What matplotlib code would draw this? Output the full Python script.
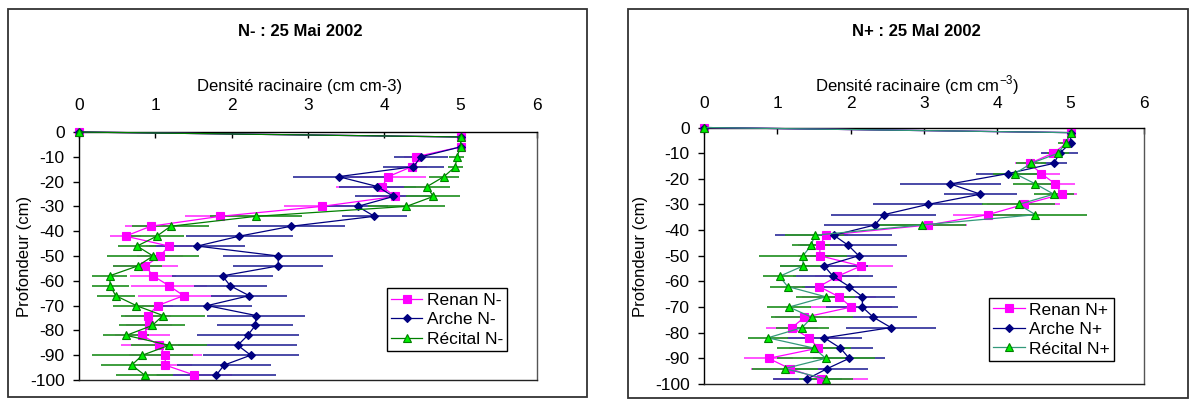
import matplotlib
matplotlib.use("Agg")
import matplotlib.pyplot as plt
from matplotlib.patches import Rectangle

plt.rcParams['font.family'] = ['Liberation Sans', 'DejaVu Sans']
plt.rcParams['mathtext.fontset'] = 'custom'
plt.rcParams['mathtext.rm'] = 'Liberation Sans'
plt.rcParams['axes.unicode_minus'] = False

# ---------------- data ----------------
depth_cm = [0, -2, -6, -10, -14, -18, -22, -26, -30, -34, -38, -42, -46,
            -50, -54, -58, -62, -66, -70, -74, -78, -82, -86, -90, -94, -98]

# N- panel
renan_nm = [0, 5.0, 5.0, 4.41, 4.36, 4.05, 3.97, 4.14, 3.18, 1.85, 0.94, 0.61, 1.18,
            1.06, 0.87, 0.97, 1.18, 1.37, 1.03, 0.90, 0.92, 0.83, 1.05, 1.13, 1.13, 1.51]
arche_nm = [0, 5.0, 5.0, 4.48, 4.38, 3.40, 3.91, 4.12, 3.65, 3.87, 2.78, 2.10, 1.55,
            2.61, 2.61, 1.88, 1.98, 2.23, 1.68, 2.32, 2.31, 2.21, 2.08, 2.25, 1.90, 1.80]
recital_nm = [0, 5.0, 5.0, 4.95, 4.93, 4.78, 4.56, 4.64, 4.29, 2.32, 1.20, 1.02, 0.76,
              0.97, 0.77, 0.40, 0.41, 0.48, 0.75, 1.10, 0.96, 0.62, 1.18, 0.83, 0.69, 0.86]
renan_nm_err = [0, 0, 0.05, 0.15, 0.2, 0.5, 0.6, 0.3, 0.5, 0.46, 0.34, 0.2, 0.3,
                0.3, 0.43, 0.3, 0.5, 0.6, 0.2, 0.3, 0.3, 0.36, 0.5, 0.48, 0.35, 0.5]
arche_nm_err = [0, 0, 0.05, 0.35, 0.4, 0.6, 0.5, 0.5, 0.4, 0.43, 0.7, 0.7, 0.63,
                0.72, 0.59, 0.66, 0.48, 0.5, 0.58, 0.64, 0.5, 0.67, 0.78, 0.63, 0.62, 0.78]
recital_nm_err = [0, 0, 0.05, 0.1, 0.1, 0.2, 0.3, 0.35, 0.5, 0.6, 0.5, 0.35, 0.25,
                  0.6, 0.32, 0.23, 0.24, 0.25, 0.3, 0.55, 0.43, 0.3, 0.5, 0.66, 0.4, 0.37]

# N+ panel
renan_np = [0, 5.0, 4.95, 4.76, 4.44, 4.60, 4.79, 4.88, 4.36, 3.87, 3.06, 1.66, 1.58,
            1.58, 2.14, 1.82, 1.57, 1.84, 2.01, 1.37, 1.20, 1.43, 1.56, 0.88, 1.17, 1.59]
arche_np = [0, 5.0, 5.0, 4.85, 4.77, 4.14, 3.36, 3.77, 3.05, 2.45, 2.33, 1.77, 1.97,
            2.11, 1.64, 1.76, 1.98, 2.16, 2.16, 2.31, 2.55, 1.64, 1.86, 1.98, 1.68, 1.41]
recital_np = [0, 5.0, 4.93, 4.83, 4.46, 4.24, 4.52, 4.77, 4.29, 4.52, 2.97, 1.51, 1.46,
              1.35, 1.35, 1.03, 1.14, 1.66, 1.16, 1.47, 1.34, 0.87, 1.50, 1.66, 1.10, 1.66]
renan_np_err = [0, 0.05, 0.1, 0.15, 0.2, 0.25, 0.27, 0.2, 0.5, 0.47, 0.52, 0.3, 0.3,
                0.3, 0.44, 0.3, 0.35, 0.5, 0.56, 0.4, 0.35, 0.4, 0.4, 0.33, 0.53, 0.64]
arche_np_err = [0, 0.05, 0.05, 0.25, 0.18, 0.43, 0.69, 0.5, 0.75, 0.72, 0.7, 0.8, 0.66,
                0.66, 0.6, 0.55, 0.65, 0.45, 0.49, 0.6, 0.62, 0.51, 0.44, 0.49, 0.55, 0.47]
recital_np_err = [0, 0.05, 0.1, 0.15, 0.2, 0.3, 0.3, 0.27, 0.5, 0.7, 0.6, 0.4, 0.26,
                  0.6, 0.31, 0.22, 0.24, 0.4, 0.3, 0.56, 0.36, 0.27, 0.5, 0.67, 0.45, 0.37]

ticks_x = [0, 1, 2, 3, 4, 5, 6]
ticks_y = [0, -10, -20, -30, -40, -50, -60, -70, -80, -90, -100]

titles = ["N- : 25 Mai 2002", "N+ : 25 Mal 2002"]
xlabels = ["Densité racinaire (cm cm-3)", r"Densité racinaire (cm cm$^{\mathregular{-3}}$)"]
ylabel = "Profondeur (cm)"
labels_nm = ["Renan N-", "Arche N-", "Récital N-"]
labels_np = ["Renan N+", "Arche N+", "Récital N+"]

# ---------------- figure ----------------
W, H = 1200, 400
fig = plt.figure(figsize=(12, 4), dpi=100)


def fr(x0, y0, x1, y1):
    return [x0 / W, 1 - y1 / H, (x1 - x0) / W, (y1 - y0) / H]


def box(x0, y0, x1, y1):
    fig.patches.append(Rectangle((x0 / W, 1 - y1 / H), (x1 - x0) / W, (y1 - y0) / H,
                                 transform=fig.transFigure, fill=False,
                                 ec='#333333', lw=1.3))


box(8, 9, 587, 397)
box(628, 9, 1188, 398)


def panel(rect, series, errs, labels, rec_line, xpad, leg_anchor):
    ax = fig.add_axes(rect)
    styles = [
        dict(color='#FF00FF', marker='s', ms=5.5, mfc='#FF00FF', mec='#FF00FF', ecol='#FF44FF'),
        dict(color='#000080', marker='D', ms=4.0, mfc='#000080', mec='#000080', ecol='#3A3AA0'),
        dict(color=rec_line, marker='^', ms=6.0, mfc='#00EE00', mec='#008000', ecol='#2E962E'),
    ]
    handles = []
    for vals, err, st, lab in zip(series, errs, styles, labels):
        ax.errorbar(vals, depth_cm, xerr=err, fmt='none', ecolor=st['ecol'],
                    elinewidth=1.3, capsize=0, zorder=2)
        h, = ax.plot(vals, depth_cm, color=st['color'], lw=0.9, marker=st['marker'],
                     ms=st['ms'], mfc=st['mfc'], mec=st['mec'], mew=0.8,
                     clip_on=False, zorder=3, label=lab)
        handles.append(h)
    ax.set_xlim(0, 6)
    ax.set_ylim(-100, 0)
    ax.set_xticks(ticks_x)
    ax.set_yticks(ticks_y)
    ax.xaxis.tick_top()
    ax.tick_params(axis='x', direction='in', length=4, width=1, pad=xpad, labelsize=12.5,
                   top=True, bottom=False)
    ax.tick_params(axis='y', direction='out', length=4.3, width=1, pad=6, labelsize=12.5)
    for s in ax.spines.values():
        s.set_linewidth(1.0)
        s.set_color('black')
    ax.spines['right'].set_color('#555555')
    ax.spines['bottom'].set_color('#222222')
    leg = ax.legend(handles=handles, loc='upper left', bbox_to_anchor=leg_anchor,
                    borderaxespad=0, frameon=True, fancybox=False, edgecolor='black',
                    framealpha=1, fontsize=12.5, handlelength=1.8, handletextpad=0.25,
                    labelspacing=0.25, borderpad=0.25)
    leg.get_frame().set_linewidth(1.0)
    leg.set_zorder(10)
    return ax


panel(fr(79, 132, 537, 380), [renan_nm, arche_nm, recital_nm],
      [renan_nm_err, arche_nm_err, recital_nm_err], labels_nm, '#008000', 13.5,
      (0.672, 0.369))
panel(fr(704, 127.5, 1144, 384), [renan_np, arche_np, recital_np],
      [renan_np_err, arche_np_err, recital_np_err], labels_np, '#33997A', 12,
      (0.648, 0.335))

fig.text(300 / W, 1 - 31.5 / H, titles[0], ha='center', va='center', fontsize=12,
         fontweight='bold')
fig.text(916 / W, 1 - 31.5 / H, titles[1], ha='center', va='center', fontsize=12,
         fontweight='bold')
fig.text(300 / W, 1 - 86 / H, xlabels[0], ha='center', va='center', fontsize=12)
fig.text(917 / W, 1 - 85 / H, xlabels[1], ha='center', va='center', fontsize=12)
fig.text(25 / W, 1 - 256 / H, ylabel, ha='center', va='center', fontsize=12, rotation=90)
fig.text(640 / W, 1 - 256 / H, ylabel, ha='center', va='center', fontsize=12, rotation=90)

fig.savefig('out.png', dpi=100)
